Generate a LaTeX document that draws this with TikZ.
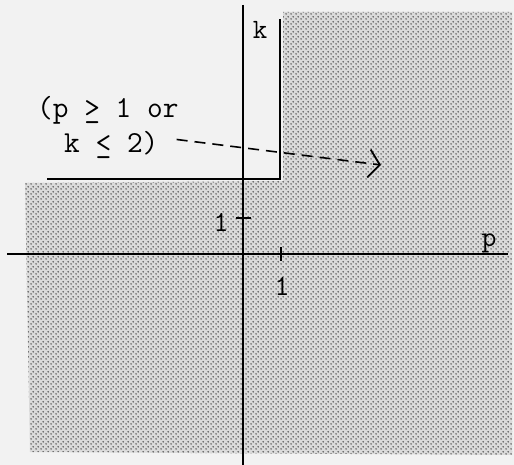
\documentclass[tikz,border=0pt]{standalone}
\usepackage{fontspec}
\usetikzlibrary{patterns,arrows.meta}
\definecolor{paper}{RGB}{242,242,242}
\definecolor{shade}{RGB}{218,218,218}
\pgfdeclarepatternformonly{scandots}{\pgfpointorigin}{\pgfpoint{5pt}{5pt}}{\pgfpoint{5pt}{5pt}}{%
  \pgfpathcircle{\pgfpoint{1.25pt}{1.25pt}}{0.9pt}%
  \pgfpathcircle{\pgfpoint{3.75pt}{3.75pt}}{0.9pt}%
  \pgfusepath{fill}}
\tikzset{
  axisline/.style={line width=1.8pt, black},
  bound/.style={line width=2.2pt, black},
  tw/.style={font=\ttfamily\addfontfeatures{FakeBold=1.8}\fontsize{#1}{#1}\selectfont},
  lbl/.style={inner sep=0pt, tw=29},
  txt/.style={inner sep=0pt, anchor=base west, tw=30.5},
  dasharrow/.style={line width=1.6pt, dash pattern=on 11pt off 7pt, -{Straight Barb[length=11pt,width=28pt,line width=1.8pt]}}
}
\newcommand{\geu}{\makebox[0pt][l]{\_}>}
\newcommand{\leu}{\makebox[0pt][l]{\_}<}
\begin{document}
\begin{tikzpicture}[x=1pt,y=-1pt]
\useasboundingbox[fill=paper] (0,0) rectangle (514,465);
% shaded region
\path[fill=shade] (283,12) -- (512,12) -- (512,455) -- (30,452) -- (25,183) -- (283,181) -- cycle;
\path[pattern=scandots, pattern color=black!70] (283,12) -- (512,12) -- (512,455) -- (30,452) -- (25,183) -- (283,181) -- cycle;
% axes
\coordinate (ktop) at (243,5);
\coordinate (kbot) at (243,465);
\coordinate (pl) at (7,254);
\coordinate (pr) at (508,254);
\draw[axisline] (ktop) -- (kbot);
\draw[axisline] (pl) -- (pr);
% ticks
\draw[line width=1.4pt] (281,247) -- (281,261);
\draw[line width=1.4pt] (236,218) -- (251,218);
% boundary
\coordinate (btop) at (280,20);
\coordinate (bcorner) at (280,179);
\coordinate (bleft) at (48,179);
\draw[bound, line cap=rect] (btop) -- (bcorner) -- (bleft);
% labels
\node[lbl, tw=28] (klab) at (260,30) {k};
\node[lbl] (plab) at (489,243) {p};
\node[lbl] (one1) at (282,286) {1};
\node[lbl] (onek) at (221,222) {1};
% condition text
\node[txt] (line1) at (37,118) {(p \geu{} 1 or};
\node[txt] (line2) at (64,153) {k \leu{} 2)};
\coordinate (tip) at (381,165);
\draw[dasharrow] ([xshift=18pt,yshift=6pt]line2.east) -- (tip);
\end{tikzpicture}
\end{document}
